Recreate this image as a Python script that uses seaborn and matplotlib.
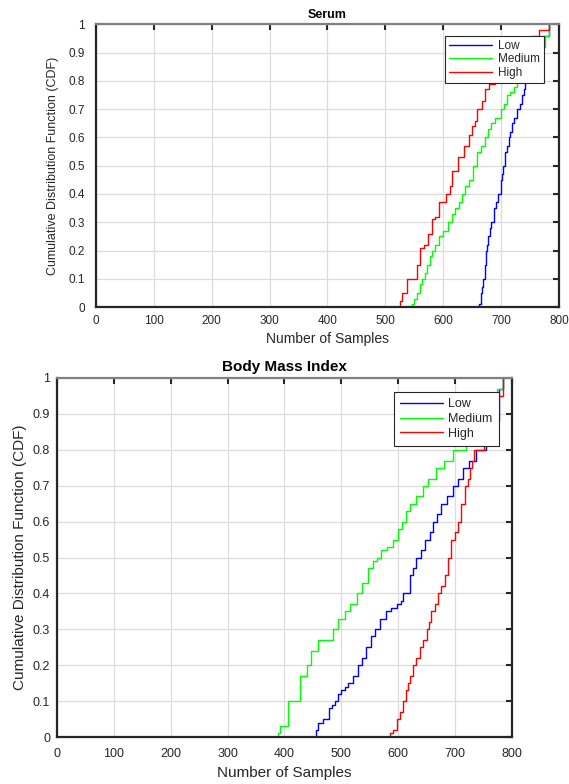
import matplotlib
matplotlib.use("Agg")
import matplotlib.pyplot as plt
import seaborn as sns
import pandas as pd
from matplotlib.lines import Line2D

levels = ["Low", "Medium", "High"]
colors = {"Low": "#0000ff", "Medium": "#00ff00", "High": "#ff0000"}

# Serum (x = sample index where the CDF steps up to y)
serum_low_x = [0, 662, 665, 667, 669, 672, 674, 676, 678, 681, 683, 688, 691, 694, 699, 701, 703, 707, 711, 714, 716, 718, 722, 727, 732, 736, 740, 742, 750, 760, 773, 782]
serum_low_y = [0, 0.01, 0.05, 0.07, 0.1, 0.15, 0.2, 0.22, 0.25, 0.28, 0.3, 0.35, 0.37, 0.4, 0.45, 0.47, 0.5, 0.55, 0.57, 0.6, 0.62, 0.65, 0.67, 0.7, 0.72, 0.75, 0.77, 0.8, 0.85, 0.9, 0.96, 1.0]
serum_med_x = [0, 543, 546, 550, 555, 559, 563, 568, 572, 577, 581, 586, 592, 600, 609, 615, 621, 627, 632, 638, 644, 651, 658, 665, 672, 677, 683, 690, 699, 705, 710, 716, 722, 727, 745, 760, 775, 782]
serum_med_y = [0, 0.005, 0.01, 0.03, 0.05, 0.08, 0.1, 0.12, 0.15, 0.18, 0.2, 0.22, 0.25, 0.27, 0.3, 0.33, 0.35, 0.37, 0.4, 0.43, 0.45, 0.5, 0.55, 0.57, 0.6, 0.63, 0.65, 0.67, 0.7, 0.72, 0.75, 0.76, 0.78, 0.8, 0.86, 0.92, 0.96, 1.0]
serum_high_x = [0, 526, 528, 537, 554, 560, 566, 574, 581, 585, 592, 604, 611, 615, 626, 636, 644, 650, 655, 658, 667, 673, 679, 690, 700, 720, 740, 753, 765, 782]
serum_high_y = [0, 0.02, 0.05, 0.1, 0.15, 0.21, 0.22, 0.26, 0.31, 0.32, 0.37, 0.4, 0.43, 0.48, 0.53, 0.57, 0.61, 0.64, 0.66, 0.7, 0.73, 0.77, 0.79, 0.8, 0.83, 0.87, 0.92, 0.96, 0.98, 1.0]

# Body Mass Index
bmi_low_x = [0, 456, 459, 468, 478, 483, 488, 494, 500, 506, 512, 520, 529, 536, 544, 552, 559, 568, 579, 588, 597, 604, 609, 620, 626, 632, 640, 647, 655, 661, 668, 676, 686, 696, 705, 714, 725, 737, 755, 778, 784]
bmi_low_y = [0, 0.02, 0.04, 0.05, 0.08, 0.09, 0.1, 0.12, 0.13, 0.14, 0.15, 0.17, 0.2, 0.22, 0.25, 0.28, 0.3, 0.33, 0.35, 0.36, 0.37, 0.38, 0.4, 0.45, 0.47, 0.5, 0.52, 0.55, 0.57, 0.6, 0.62, 0.65, 0.67, 0.7, 0.72, 0.75, 0.77, 0.8, 0.88, 0.97, 1.0]
bmi_med_x = [0, 389, 392, 403, 406, 428, 439, 447, 459, 486, 494, 507, 515, 527, 536, 547, 556, 562, 570, 580, 591, 599, 606, 613, 620, 632, 644, 652, 667, 680, 696, 720, 750, 773, 784]
bmi_med_y = [0, 0.01, 0.03, 0.03, 0.1, 0.17, 0.2, 0.24, 0.27, 0.3, 0.33, 0.35, 0.37, 0.4, 0.43, 0.47, 0.49, 0.5, 0.52, 0.53, 0.55, 0.58, 0.6, 0.63, 0.65, 0.67, 0.7, 0.72, 0.75, 0.77, 0.8, 0.85, 0.92, 0.97, 1.0]
bmi_high_x = [0, 585, 591, 597, 603, 609, 613, 617, 621, 626, 632, 638, 644, 650, 654, 658, 664, 670, 676, 682, 688, 693, 699, 705, 711, 717, 722, 726, 730, 734, 750, 770, 784]
bmi_high_y = [0, 0.01, 0.02, 0.05, 0.07, 0.1, 0.13, 0.15, 0.17, 0.2, 0.22, 0.25, 0.27, 0.3, 0.32, 0.35, 0.37, 0.4, 0.42, 0.45, 0.5, 0.55, 0.57, 0.6, 0.65, 0.7, 0.72, 0.75, 0.77, 0.8, 0.88, 0.95, 1.0]

x_ticks = [0, 100, 200, 300, 400, 500, 600, 700, 800]
x_ticklabels = ["0", "100", "200", "300", "400", "500", "600", "700", "800"]
y_ticks = [0, 0.1, 0.2, 0.3, 0.4, 0.5, 0.6, 0.7, 0.8, 0.9, 1.0]
y_ticklabels = ["0", "0.1", "0.2", "0.3", "0.4", "0.5", "0.6", "0.7", "0.8", "0.9", "1"]

titles = ["Serum", "Body Mass Index"]
xlabel = "Number of Samples"
ylabel = "Cumulative Distribution Function (CDF)"


def make_df(series):
    rows = []
    for lvl, (xs, ys) in zip(levels, series):
        for xv, yv in zip(xs, ys):
            rows.append({"x": xv, "y": yv, "level": lvl})
    return pd.DataFrame(rows)


sns.set_theme(style="white")
plt.rcParams["font.family"] = ["Liberation Sans", "DejaVu Sans"]

fig = plt.figure(figsize=(5.69, 7.84), dpi=100)
ax1 = fig.add_axes([0.1687, 0.6084, 0.8137, 0.3604])
ax2 = fig.add_axes([0.1002, 0.0599, 0.7996, 0.4580])

configs = [
    dict(ax=ax1,
         df=make_df([(serum_low_x, serum_low_y), (serum_med_x, serum_med_y), (serum_high_x, serum_high_y)]),
         title=titles[0], tick_fs=8.5, lab_fs=9, xlab_fs=10, title_fs=9, title_pad=5,
         xpad=6, ypad=8, xlabpad=3, ylabpad=7,
         leg=dict(bbox=(0.9676, 0.960), fs=8.5, hl=3.6, bp=0.35, ls=0.12, htp=0.5)),
    dict(ax=ax2,
         df=make_df([(bmi_low_x, bmi_low_y), (bmi_med_x, bmi_med_y), (bmi_high_x, bmi_high_y)]),
         title=titles[1], tick_fs=9, lab_fs=11, xlab_fs=11, title_fs=11, title_pad=4.7,
         xpad=8, ypad=5, xlabpad=4, ylabpad=4,
         leg=dict(bbox=(0.971, 0.961), fs=9, hl=3.4, bp=0.5, ls=0.22, htp=0.45)),
]

for c in configs:
    ax = c["ax"]
    sns.lineplot(data=c["df"], x="x", y="y", hue="level", hue_order=levels, palette=colors,
                 estimator=None, sort=False, drawstyle="steps-post", linewidth=1.0,
                 ax=ax, legend=False)
    ax.set_xlim(0, 800)
    ax.set_ylim(0, 1)
    ax.set_xticks(x_ticks)
    ax.set_xticklabels(x_ticklabels)
    ax.set_yticks(y_ticks)
    ax.set_yticklabels(y_ticklabels)
    ax.grid(True, color="#dcdcdc", linewidth=0.9)
    ax.set_axisbelow(True)
    for side in ["left", "bottom", "right", "top"]:
        ax.spines[side].set_visible(True)
        ax.spines[side].set_color("#262626")
        ax.spines[side].set_linewidth(1.6)
    ax.spines["top"].set_color("#808080")
    ax.tick_params(axis="both", which="both", direction="in", length=4, width=1.5,
                   colors="#262626", labelsize=c["tick_fs"], top=True, right=True,
                   labeltop=False, labelright=False)
    ax.tick_params(axis="x", pad=c["xpad"])
    ax.tick_params(axis="y", pad=c["ypad"])
    ax.set_xlabel(xlabel, fontsize=c["xlab_fs"], color="#262626", labelpad=c["xlabpad"])
    ax.set_ylabel(ylabel, fontsize=c["lab_fs"], color="#262626", labelpad=c["ylabpad"])
    ax.set_title(c["title"], fontsize=c["title_fs"], fontweight="bold", color="black",
                 pad=c["title_pad"])
    lg = c["leg"]
    handles = [Line2D([0], [0], color=colors[l], lw=1.0) for l in levels]
    leg = ax.legend(handles, levels, loc="upper right", bbox_to_anchor=lg["bbox"],
                    fontsize=lg["fs"], frameon=True, fancybox=False, framealpha=1,
                    edgecolor="#262626", handlelength=lg["hl"], borderpad=lg["bp"],
                    labelspacing=lg["ls"], handletextpad=lg["htp"], borderaxespad=0)
    leg.get_frame().set_linewidth(0.8)
    for t in leg.get_texts():
        t.set_color("#262626")

fig.savefig("out.png", dpi=100)
